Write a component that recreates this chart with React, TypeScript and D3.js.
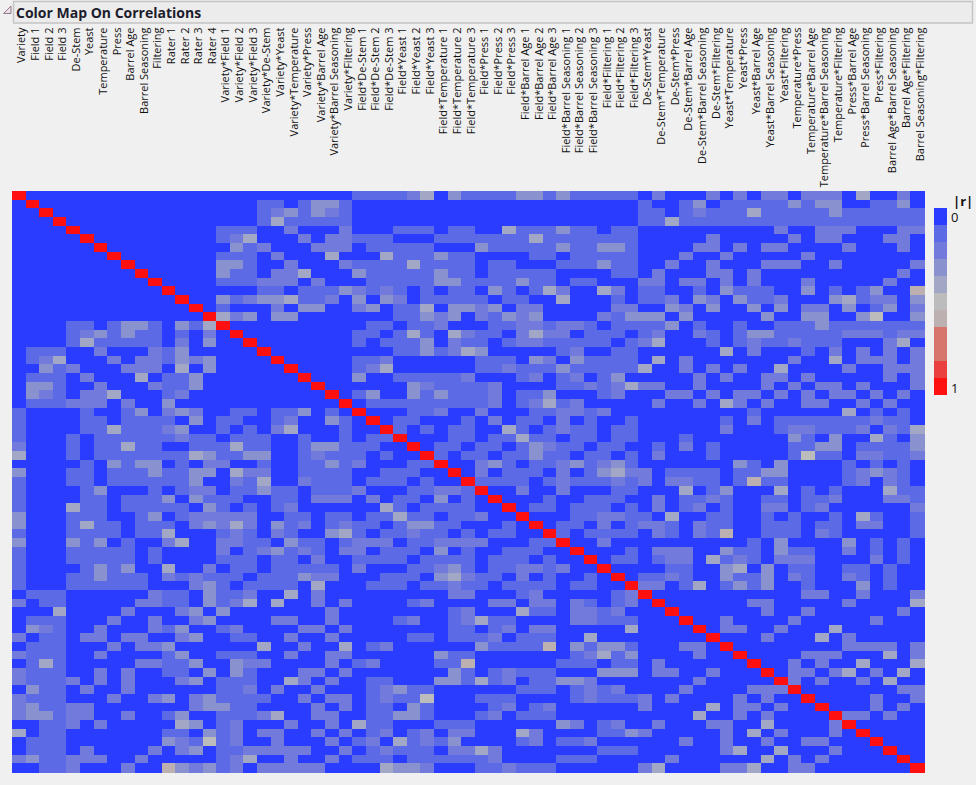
import React from "react";
import * as d3 from "d3";

const title = "Color Map On Correlations";
const factors = ["Field", "De-Stem", "Yeast", "Temperature", "Press", "Barrel Age", "Barrel Seasoning", "Filtering"];

const mainLabels = ["Variety", "Field 1", "Field 2", "Field 3", "De-Stem", "Yeast", "Temperature", "Press", "Barrel Age", "Barrel Seasoning", "Filtering", "Rater 1", "Rater 2", "Rater 3", "Rater 4"];
const varietyLabels = ["Variety*Field 1", "Variety*Field 2", "Variety*Field 3", "Variety*De-Stem", "Variety*Yeast", "Variety*Temperature", "Variety*Press", "Variety*Barrel Age", "Variety*Barrel Seasoning", "Variety*Filtering"];
const fieldLabels = factors.slice(1).flatMap((f) => [1, 2, 3].map((n) => `Field*${f} ${n}`));
const otherLabels = factors.slice(1).flatMap((a, i) => factors.slice(i + 2).map((b) => `${a}*${b}`));
const labels = [...mainLabels, ...varietyLabels, ...fieldLabels, ...otherLabels];

// Upper triangle of the colour-level matrix, one entry per row: "column(s):level"
const upperRows = [
  "25-28:1 29:2 30:4 32:3 33-36:1 37-38:3 39:1 40:3 41-45:1 47:2 51:2 53:2 55-56:2 58-60:2 62:4 65:2",
  "18-19:1 21:1 22-23:3 24:1 46:1 49:1 50:3 52-56:1 57:3 58:1 59-60:3 63-64:1 65:3",
  "18:1 19:2 20:3 21:1 22:3 23:2 24:1 46:1 47:1 49:1 50:2 51-53:1 54:4 55-59:1 60:3 61-66:1",
  "18:1 19:4 20-24:1 46-47:1 48:4 49-66:1",
  "15-17:1 20:2 24:2 28-30:1 32-33:1 36:4 37-39:1 40:3 41-42:1 44-45:1 56:2 59-61:2 65-66:2",
  "15:1 16:2 17:4 21:2 23-24:2 25-27:1 31-37:1 38:4 39-45:1 51:2 57:2 59-60:2 64-65:2",
  "16:3 17:1 18:2 22:2 23-24:2 26-30:1 34:3 35-39:1 40:3 41-42:1 43-44:3 45:1 50-51:2 53:2 55-56:2 61:2 65:2",
  "15-17:1 19:2 23:4 27:4 28-30:1 31:3 32-33:1 38-39:1 41-45:1 49:2 52:2 58:2",
  "15-16:3 17:1 20:2 24:2 25-28:1 29:4 30-33:1 35-36:1 40-42:1 43:3 44-45:1 48:2 51:2 55-57:2 60:2 66:2",
  "15:3 16-17:1 19-20:2 21:4 25:3 26-30:1 31:3 32-33:1 35-39:1 44-45:1 47:2 51-52:2 54:2 65:2",
  "15-17:1 18-20:2 22:2 26-30:1 31-32:3 33-36:1 37:3 38-39:1 41-42:1 46-47:2 49-50:2 52:2 54:2 58:2 64:2",
  "18-19:1 21-23:1 24:3 25:2 26:1 27:2 28:1 30:1 32-33:1 35:3 36:1 38:1 39:4 40:2 43:4 44:2 46-47:1 50:1 52:3 53-55:1 58:3 60:1 62:1 63:3 66:6",
  "15:3 16:1 17:2 18-19:3 20:4 21-22:1 23:2 25:3 27:3 28:2 30-34:1 36-37:1 40:4 44:1 46-47:1 48:2 50:3 51:2 53:3 54-55:1 56:2 60:3 61:4 62:1 63-64:2 66:3",
  "15:1 19:2 21-22:3 25:2 26:3 28-29:1 30:4 32-33:3 34:2 35:3 37-38:2 44-45:2 48:3 49:2 51:3 54:3 56:3 58-59:2 61:3 63:1 64:3 66:2",
  "15:4 16:2 17:3 19-20:3 28-29:1 30:3 31:2 32:3 34:2 35:1 36:3 37:2 38:3 43:2 44:1 45-47:3 49:3 55:3 58-59:3 62:3 63:5 66:3",
  "26-27:1 29-30:1 31:2 35-36:1 37-38:2 39:1 40-41:2 42:1 44-47:1 48:3 50:1 53:1 56-58:1 59:3 60-66:1",
  "25-26:1 28:1 29:4 30:1 32:4 33:2 34-35:1 37:2 38:4 39-40:2 42-44:1 46:1 47:2 50:2 51:1 53:1 54-55:3 56-60:1 61-63:2 64:1 65-66:2",
  "25:1 27-29:1 30:3 32:2 33-34:1 36:1 37-38:2 39-43:1 45:1 46:2 47:4 51:1 53:1 54:2 55-56:1 57:2 58-60:1 64:2 65:4",
  "28-29:1 30:3 31:1 32:2 33:4 34:3 40:1 41:2 44-45:1 52:4 54:2 58:1 60:2 62:2 64:2 66:2",
  "25-26:1 27:2 34-36:1 38:3 39:2 41:3 42-45:1 47:4 49:2 57:2 60:4 62-64:2 66:2",
  "25:1 26:2 27:4 34-35:1 36:2 37-39:1 40:3 41-45:1 46:4 49:2 51:2 53:2 56:4 61:2 64-66:2",
  "25:3 28-32:1 33:2 37:1 38:2 40:1 41:2 43:1 44:3 50:2 52:2 55-56:2 58:2 64:2 66:2",
  "29:3 30:2 31-34:1 35:2 40-41:1 42:2 43:1 44:2 45:4 46-47:2 50:2 55:2 57:2 59-60:2 62:2 66:2",
  "25:1 26:3 29:3 30:1 31:3 32-34:1 35:2 37-38:1 39:3 43:1 44:2 48-49:2 51:2 53-54:2 56:2 58:2 60-61:2 63:2 65:2",
  "26-34:1 35:2 37:1 38:2 39:4 40:1 41:2 47:2 50:2 52:4 53:2 55:2 58-59:2 62:2 64:2",
  "29-30:1 31:2 34:2 38-39:1 40-41:2 42:1 43:2 54:1 61:4 63:1 65:1",
  "28-29:1 33:1 35:2 37-38:1 40:2 42:1 45:1 52:1 54:2 56-62:1 63:2 64-65:1",
  "28:1 30:1 32-33:1 36:4 37:1 39:1 40:2 41-42:1 44-45:1 52:2 56:1 57-58:2 59-61:1 62:2 64:2 65:1 66:4",
  "32-33:1 35-36:1 37:4 38-39:1 41-42:1 44-45:1 49:1 57:3 58:1 60:3 63:4 64:1 66:3",
  "31-32:1 34-35:1 37:1 38:3 39:2 40-41:1 43-44:1 47:1 49:2 51:1 57-58:1 59-60:3 62-65:1 66:3",
  "31:1 33-34:1 36-37:1 38:3 39-40:1 42-43:1 45:1 47:2 51:1 57:1 58:5 59-60:1 62-63:2 64-65:1 66:2",
  "34:2 35:3 36:1 38-39:1 40:2 41:3 42:1 43:2 44:3 45:1 53:3 54:1 56:3 61:1 63:1 65:1",
  "34:2 36-38:1 40:2 42:1 43:3 44:4 45-46:2 48-51:1 53-54:1 55-56:3 61:1 62:2 63:3 64:2 65:1",
  "34-37:1 39:1 40:2 41-43:1 44:2 45:1 46:2 48-49:2 50-51:1 53:1 54:6 55-56:1 61:1 62:2 64:2 65:1",
  "37:2 40:2 44-45:1 49:4 51:1 52:3 56:4 58:1 60:1 64:4 65-66:1",
  "39:1 42-44:1 47:2 49-50:1 51:2 52:1 55-56:1 58-59:1 60:2 64-65:2 66:1",
  "38-39:1 41-43:1 45:1 47:2 49:1 50:2 52:1 55-56:2 58:1 59:2 66:2",
  "41-42:1 43-44:2 45-46:1 48:4 51-52:1 55:1 57:1 60:1 62:4 63:1 66:1",
  "40-41:1 43:2 45:1 46-47:2 48:1 50:2 51-52:1 55-57:1 59-60:1 62-63:2 66:1",
  "40:1 42-45:1 47:2 48:1 50:2 51:1 52:6 55-57:1 59:2 60:1 66:1",
  "43:2 54:1 56:3 61:3 63:1 65:1",
  "45:1 47-49:2 52:3 53-54:1 56:3 57-58:1 61:2 63:1 65:1",
  "44-45:1 47:1 48-49:2 51:4 52:1 53:2 54:1 56-58:2 63:2 65:1",
  "48-49:1 52:3 53:4 55:3 57-58:1 61-62:1 64:1",
  "46-47:1 48:2 49:1 52:3 53-54:1 55:3 57:2 58:1 61:2 62:1 64:1",
  "46-47:2 49:1 50:4 52:1 53:3 54:1 55:3 58:1 62:3 64:1",
  "58-59:2 62:2 66:2",
  "54-55:2 61:2 66:4",
  "55:2 58:2 65:2",
  "52:2 57:2 63:2",
  "52-53:2 56:2 60:4",
  "55:2 59:4 61:2",
  "61-64:2 66:2",
  "58-60:2 64:4 66:2",
  "57:2 59:2 62:4 66:4",
  "57-58:2 60:2 61:4 63:2 65:4",
  "57:2 59:2 62:2 64:4",
  "65-66:2",
  "63:2 66:2",
  "63:2 65:2",
  "61-62:2 64:2",
  "", "", "", "", "", "",
];

const levelColors = ["#2a3cff", "#5c6ae6", "#727bdb", "#8a91cf", "#a3a7c6", "#bcbcbc", "#bdb0b0", "#d6756c", "#d6756c", "#e93f3f", "#ff1010"];
const legendLevels = [0, 1, 2, 3, 4, 5, 6, 7, 8, 9, 10];
const DIAGONAL = 10;

function buildCells() {
  const n = labels.length;
  const m: number[][] = d3.range(n).map(() => d3.range(n).map(() => 0));
  upperRows.forEach((row, r) => {
    m[r][r] = DIAGONAL;
    row.split(" ").filter(Boolean).forEach((tok) => {
      const [cols, lvl] = tok.split(":");
      const [a, b] = cols.split("-").map(Number);
      for (let c = a; c <= (b ?? a); c++) {
        m[r][c] = +lvl;
        m[c][r] = +lvl;
      }
    });
  });
  return m.flatMap((row, r) => row.map((level, c) => ({ r, c, level })));
}

export default function App() {
  const idx = d3.range(labels.length);
  const x = d3.scaleBand<number>().domain(idx).range([12, 924]);
  const y = d3.scaleBand<number>().domain(idx).range([191, 772]);
  const color = d3.scaleOrdinal<number, string>().domain(legendLevels).range(levelColors);
  const legendY = d3.scaleBand<number>().domain(legendLevels).range([208, 395]);
  const cells = buildCells();
  const font = "'Open Sans', 'Noto Sans', sans-serif";

  return (
    <svg width={976} height={785} style={{ position: "absolute", left: 0, top: 0, display: "block" }} fontFamily={font}>
      <rect width={976} height={785} fill="#f0f0f0" />
      <path d="M11 6 L11 13.5 L3.5 13.5 Z" fill="#e8e0e4" stroke="#96788c" strokeWidth={1} />
      <rect x={13.5} y={1.5} width={959} height={21.5} fill="#ececec" stroke="#c4c4c4" strokeWidth={1.5} />
      <text x={16} y={17.5} fontSize={14} fontWeight={700} fill="#1c1c2c">{title}</text>

      {labels.map((l, i) => (
        <text
          key={l}
          transform={`translate(${x(i)! + x.bandwidth() / 2 + 6.5},27.5) rotate(-90)`}
          textAnchor="end"
          fontSize={11}
          fill="#111"
        >
          {l}
        </text>
      ))}

      <g shapeRendering="crispEdges">
        {cells.map((d) => (
          <rect key={`${d.r}-${d.c}`} x={x(d.c)} y={y(d.r)} width={x.bandwidth() + 0.5} height={y.bandwidth() + 0.5} fill={color(d.level)} />
        ))}
      </g>

      <text x={953} y={206} fontSize={13} fontWeight={700} fill="#111">|r|</text>
      <g shapeRendering="crispEdges">
        {legendLevels.map((l) => (
          <rect key={l} x={934} y={legendY(l)} width={13} height={legendY.bandwidth()} fill={color(l)} />
        ))}
      </g>
      <text x={951} y={222} fontSize={13} fill="#111">0</text>
      <text x={951} y={393} fontSize={13} fill="#111">1</text>
    </svg>
  );
}
